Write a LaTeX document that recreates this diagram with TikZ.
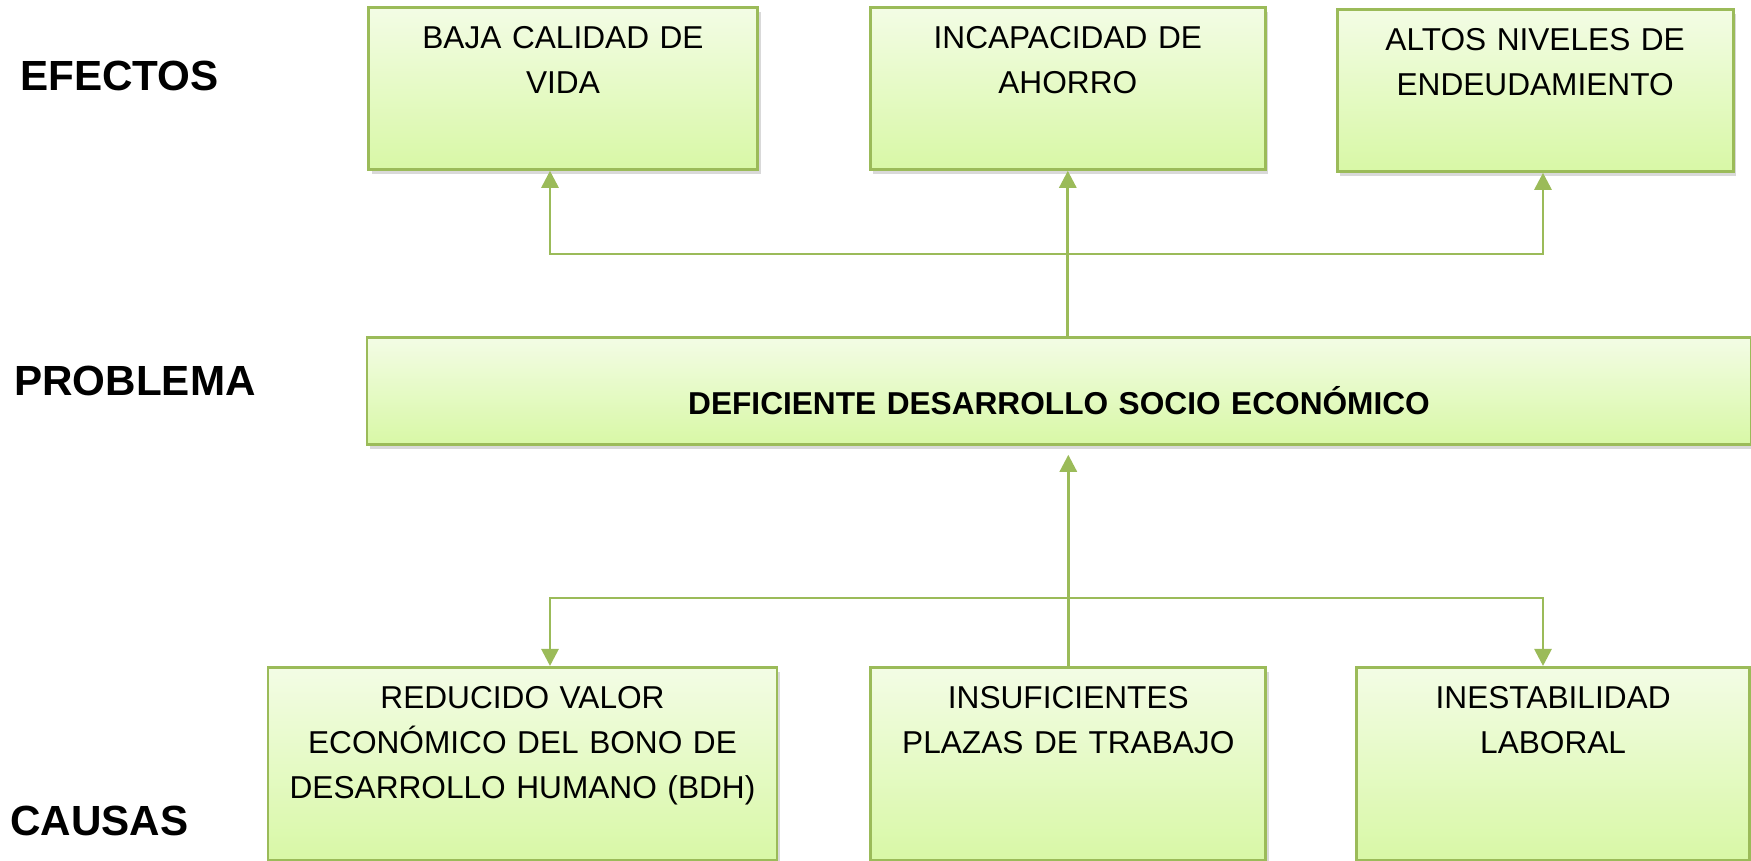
\documentclass[tikz,border=0pt]{standalone}
\usepackage{fontspec}
\setmainfont{Liberation Sans}
\usetikzlibrary{positioning, shadows, arrows.meta}

\definecolor{boxline}{RGB}{155,187,89}
\definecolor{boxtop}{RGB}{243,252,229}
\definecolor{boxbot}{RGB}{216,248,166}

\begin{document}
\begin{tikzpicture}[
        node distance=1cm,
        box/.style={rectangle, draw=boxline, line width=0.8pt, top color=boxtop, bottom color=boxbot,
            align=center, inner xsep=0pt, inner ysep=0pt, text height=0.41cm,
            font=\fontsize{9}{12.8}\selectfont,
            drop shadow={shadow xshift=0.03cm, shadow yshift=-0.05cm, opacity=0.3}},
        level/.style={font=\fontsize{12}{14}\selectfont\bfseries},
        link/.style={draw=boxline, line width=0.8pt},
        arr/.style={link, -{Triangle[length=1.7mm, width=1.7mm]}},
        arrs/.style={link, {Triangle[length=1.7mm, width=1.7mm]}-{Triangle[length=1.7mm, width=1.7mm]}}
    ]
    \useasboundingbox (0,0) rectangle (17.51,8.61);

    % Row labels
    \node[level] (efectos) at (1.195,7.85) {EFECTOS};
    \node[level] (problema) at (1.35,4.80) {PROBLEMA};
    \node[level] (causas) at (0.995,0.40) {CAUSAS};

    % Effects
    \node[box, anchor=north, text width=3.89cm, text depth=1.21cm] (ef1) at (5.63,8.55) {BAJA CALIDAD DE\\VIDA};
    \node[box, text width=3.95cm, text depth=1.21cm] (ef2) [right=1.10cm of ef1] {INCAPACIDAD DE\\AHORRO};
    \node[box, text width=3.96cm, text depth=1.21cm] (ef3) [right=0.69cm of ef2, yshift=-0.02cm] {ALTOS NIVELES DE\\ENDEUDAMIENTO};

    % Problem
    \node[box, anchor=north, text width=13.84cm, text height=0.77cm, text depth=0.30cm, font=\fontsize{9}{12.8}\selectfont\bfseries] (prob) at (10.59,5.25) {DEFICIENTE DESARROLLO SOCIO ECONÓMICO};

    % Causes
    \node[box, anchor=north, text width=5.09cm, text depth=1.52cm] (ca1) at (5.225,1.95) {REDUCIDO VALOR\\ECONÓMICO DEL BONO DE\\DESARROLLO HUMANO (BDH)};
    \node[box, text width=3.95cm, text depth=1.52cm] (ca2) [right=0.91cm of ca1] {INSUFICIENTES\\PLAZAS DE TRABAJO};
    \node[box, text width=3.93cm, text depth=1.52cm] (ca3) [right=0.88cm of ca2] {INESTABILIDAD\\LABORAL};

    % Connections (effects)
    \coordinate (busTL) at (5.50,6.07);
    \coordinate (busTR) at (15.43,6.07);
    \draw[arrs] (busTL |- ef1.south) -- (busTL) -- (busTR) -- (busTR |- ef3.south);
    \draw[arr] (prob.north -| ef2.south) -- (ef2.south);

    % Connections (causes)
    \coordinate (busBL) at (5.50,2.63);
    \coordinate (busBR) at (15.43,2.63);
    \draw[arrs] (busBL |- ca1.north) -- (busBL) -- (busBR) -- (busBR |- ca3.north);
    \draw[arr, shorten >=0.09cm] (ca2.north) -- (ca2.north |- prob.south);

\end{tikzpicture}
\end{document}
